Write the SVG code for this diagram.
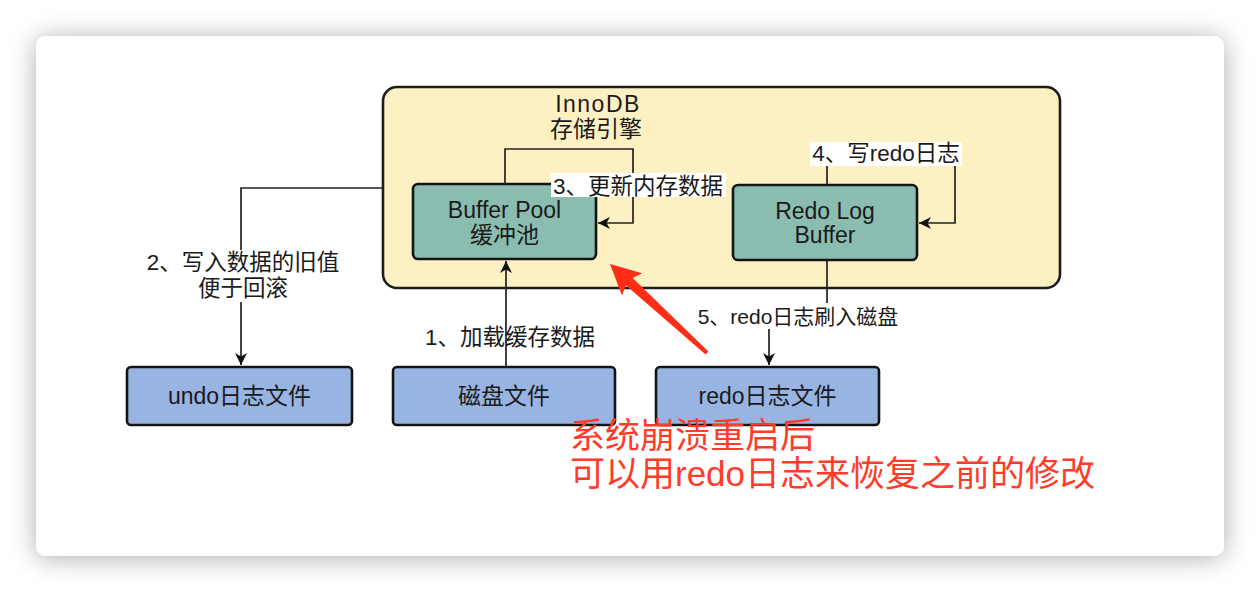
<svg xmlns="http://www.w3.org/2000/svg" width="1260" height="592" viewBox="0 0 1260 592">
  <style>
    .t { font-family: "Liberation Sans", "Noto Sans CJK SC", sans-serif; font-size: 23px; fill: #1a1a1a; text-anchor: middle; }
    .l { font-family: "Liberation Sans", "Noto Sans CJK SC", sans-serif; font-size: 22.5px; fill: #1a1a1a; text-anchor: middle; }
    .l5 { font-size: 21px; }
    .red { font-family: "Liberation Sans", "Noto Sans CJK SC", sans-serif; font-size: 35px; fill: #ff3b2a; }
    .box { stroke: #141414; stroke-width: 2.6; }
    .teal { fill: #8abcb0; }
    .blue { fill: #98b4e3; }
    .line { fill: none; stroke: #222; stroke-width: 1.7; }
    .lbg { fill: #ffffff; }
  </style>
  <defs>
    <filter id="shadow" x="-10%" y="-10%" width="120%" height="130%">
      <feDropShadow dx="0" dy="2" stdDeviation="13" flood-color="#000" flood-opacity="0.32"/>
    </filter>
    <marker id="arr" markerUnits="userSpaceOnUse" markerWidth="14" markerHeight="14" refX="12" refY="6" orient="auto">
      <path d="M0,0 L12,6 L0,12 L3.5,6 z" fill="#111"/>
    </marker>
  </defs>

  <rect x="0" y="0" width="1260" height="592" fill="#ffffff"/>
  <rect x="36" y="36" width="1188" height="520" rx="10" fill="#ffffff" filter="url(#shadow)"/>

  <g id="innodb">
    <rect x="383" y="87" width="677" height="201" rx="14" fill="#fdf0c3" stroke="#1c1c1c" stroke-width="2.6"/>
    <text class="t" x="598" y="112" letter-spacing="1.5">InnoDB</text>
    <text class="t" x="596" y="137">存储引擎</text>
  </g>

  <g id="connectors">
    <path class="line" d="M506,367 V261" marker-end="url(#arr)"/>
    <path class="line" d="M383,188 H241 V365" marker-end="url(#arr)"/>
    <path class="line" d="M505,184 V149 H633 V223 H598" marker-end="url(#arr)"/>
    <path class="line" d="M827,185 V153 H955 V223 H919" marker-end="url(#arr)"/>
    <path class="line" d="M827,260 V316 H769 V365" marker-end="url(#arr)"/>
  </g>

  <g id="buffer-pool">
    <rect class="box teal" x="413" y="184" width="183" height="75" rx="5"/>
    <text class="t" x="504.5" y="218">Buffer Pool</text>
    <text class="t" x="504.5" y="243">缓冲池</text>
  </g>

  <g id="redo-log-buffer">
    <rect class="box teal" x="733" y="185" width="184" height="75" rx="5"/>
    <text class="t" x="825" y="219">Redo Log</text>
    <text class="t" x="825" y="243">Buffer</text>
  </g>

  <g id="undo-file">
    <rect class="box blue" x="127" y="367" width="225" height="58" rx="4"/>
    <text class="t" x="239.5" y="404">undo日志文件</text>
  </g>

  <g id="disk-file">
    <rect class="box blue" x="393" y="367" width="222" height="58" rx="4"/>
    <text class="t" x="504" y="404">磁盘文件</text>
  </g>

  <g id="redo-file">
    <rect class="box blue" x="656" y="367" width="223" height="58" rx="4"/>
    <text class="t" x="767.5" y="404">redo日志文件</text>
  </g>

  <g id="labels">
    <g id="label1">
      <text class="l" x="510" y="345">1、加载缓存数据</text>
    </g>
    <g id="label2">
      <rect class="lbg" x="142" y="250" width="204" height="52"/>
      <text class="l" x="243" y="270">2、写入数据的旧值</text>
      <text class="l" x="243" y="296">便于回滚</text>
    </g>
    <g id="label3">
      <rect class="lbg" x="551" y="173" width="175" height="24"/>
      <text class="l" x="638" y="194">3、更新内存数据</text>
    </g>
    <g id="label4">
      <rect class="lbg" x="810" y="142" width="152" height="24"/>
      <text class="l" x="886" y="161">4、写redo日志</text>
    </g>
    <g id="label5">
      <rect class="lbg" x="696" y="303" width="204" height="26"/>
      <text class="l l5" x="798" y="324">5、redo日志刷入磁盘</text>
    </g>
  </g>

  <g id="annotation">
    <polygon fill="#ff2d16" points="610,264 642.2,273.2 632.6,277.9 708.4,351.5 705.6,354.5 625.8,285.3 622,295.4"/>
    <text class="red" x="570" y="448">系统崩溃重启后</text>
    <text class="red" x="570" y="486">可以用redo日志来恢复之前的修改</text>
  </g>
</svg>
